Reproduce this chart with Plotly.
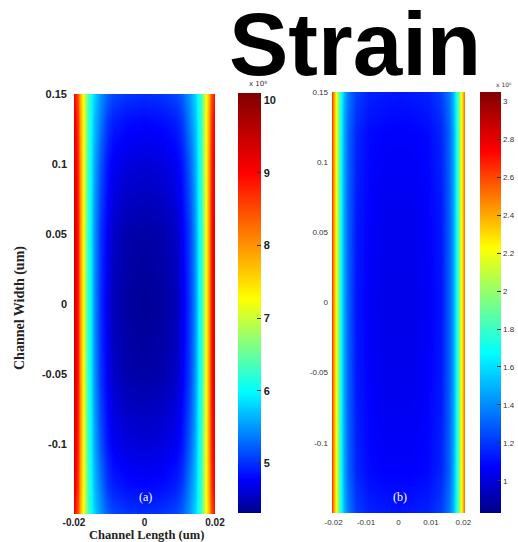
import plotly.graph_objects as go

# ---------------- data ----------------
# Panel (a): strain field, values in units of 1e8
xa = [-0.02, -0.0195, -0.019, -0.0183, -0.0175, -0.0167, -0.016, -0.0152, -0.0143, -0.0125, -0.0105, -0.009, -0.005, 0,
      0.005, 0.009, 0.0105, 0.0125, 0.0143, 0.0152, 0.016, 0.0167, 0.0175, 0.0183, 0.019, 0.0195, 0.02]
ya = [-0.15, -0.13, -0.1, -0.05, 0, 0.05, 0.1, 0.13, 0.15]
za = [
    [9.0, 8.7, 8.4, 7.8, 7.25, 6.7, 6.35, 6.05, 5.8, 5.5, 5.25, 5.12, 5.03, 5.0, 5.03, 5.12, 5.25, 5.5, 5.8, 6.05, 6.35, 6.7, 7.25, 7.8, 8.4, 8.7, 9.0],
    [9.2, 8.9, 8.6, 7.9, 7.3, 6.7, 6.3, 6.0, 5.7, 5.38, 5.05, 4.92, 4.83, 4.8, 4.83, 4.92, 5.05, 5.38, 5.7, 6.0, 6.3, 6.7, 7.3, 7.9, 8.6, 8.9, 9.2],
    [9.3, 9.0, 8.7, 8.0, 7.3, 6.65, 6.25, 5.95, 5.6, 5.2, 4.88, 4.74, 4.65, 4.62, 4.65, 4.74, 4.88, 5.2, 5.6, 5.95, 6.25, 6.65, 7.3, 8.0, 8.7, 9.0, 9.3],
    [9.4, 9.1, 8.8, 8.0, 7.3, 6.6, 6.2, 5.9, 5.5, 5.05, 4.75, 4.55, 4.45, 4.42, 4.45, 4.55, 4.75, 5.05, 5.5, 5.9, 6.2, 6.6, 7.3, 8.0, 8.8, 9.1, 9.4],
    [9.4, 9.1, 8.8, 8.0, 7.3, 6.6, 6.2, 5.9, 5.47, 5.02, 4.7, 4.5, 4.4, 4.36, 4.4, 4.5, 4.7, 5.02, 5.47, 5.9, 6.2, 6.6, 7.3, 8.0, 8.8, 9.1, 9.4],
    [9.4, 9.1, 8.8, 8.0, 7.3, 6.6, 6.2, 5.9, 5.5, 5.05, 4.75, 4.55, 4.45, 4.42, 4.45, 4.55, 4.75, 5.05, 5.5, 5.9, 6.2, 6.6, 7.3, 8.0, 8.8, 9.1, 9.4],
    [9.3, 9.0, 8.7, 8.0, 7.3, 6.65, 6.25, 5.95, 5.6, 5.2, 4.88, 4.74, 4.65, 4.62, 4.65, 4.74, 4.88, 5.2, 5.6, 5.95, 6.25, 6.65, 7.3, 8.0, 8.7, 9.0, 9.3],
    [9.2, 8.9, 8.6, 7.9, 7.3, 6.7, 6.3, 6.0, 5.7, 5.38, 5.05, 4.92, 4.83, 4.8, 4.83, 4.92, 5.05, 5.38, 5.7, 6.0, 6.3, 6.7, 7.3, 7.9, 8.6, 8.9, 9.2],
    [9.0, 8.7, 8.4, 7.8, 7.25, 6.7, 6.35, 6.05, 5.8, 5.5, 5.25, 5.12, 5.03, 5.0, 5.03, 5.12, 5.25, 5.5, 5.8, 6.05, 6.35, 6.7, 7.25, 7.8, 8.4, 8.7, 9.0],
]
za_range = [4.32, 10.1]
cbar_a_ticks = [5, 6, 7, 8, 9, 10]

# Panel (b): strain field, values in units of 1e6
xb = [-0.0205, -0.0201, -0.0196, -0.019, -0.0184, -0.0177, -0.0168, -0.0155, -0.013, -0.009, -0.004, 0,
      0.004, 0.009, 0.013, 0.0155, 0.0168, 0.0177, 0.0184, 0.019, 0.0196, 0.0201, 0.0205]
yb = [-0.15, -0.12, -0.06, 0, 0.06, 0.12, 0.15]
zb = [
    [2.6, 2.48, 2.3, 2.1, 1.87, 1.7, 1.5, 1.36, 1.22, 1.15, 1.13, 1.12, 1.13, 1.15, 1.22, 1.36, 1.5, 1.7, 1.87, 2.1, 2.3, 2.48, 2.6],
    [2.6, 2.48, 2.3, 2.1, 1.85, 1.67, 1.46, 1.31, 1.16, 1.09, 1.07, 1.07, 1.07, 1.09, 1.16, 1.31, 1.46, 1.67, 1.85, 2.1, 2.3, 2.48, 2.6],
    [2.6, 2.48, 2.3, 2.1, 1.85, 1.66, 1.45, 1.3, 1.13, 1.07, 1.04, 1.04, 1.04, 1.07, 1.13, 1.3, 1.45, 1.66, 1.85, 2.1, 2.3, 2.48, 2.6],
    [2.6, 2.48, 2.3, 2.1, 1.85, 1.66, 1.45, 1.3, 1.12, 1.06, 1.03, 1.03, 1.03, 1.06, 1.12, 1.3, 1.45, 1.66, 1.85, 2.1, 2.3, 2.48, 2.6],
    [2.6, 2.48, 2.3, 2.1, 1.85, 1.66, 1.45, 1.3, 1.13, 1.07, 1.04, 1.04, 1.04, 1.07, 1.13, 1.3, 1.45, 1.66, 1.85, 2.1, 2.3, 2.48, 2.6],
    [2.6, 2.48, 2.3, 2.1, 1.85, 1.67, 1.46, 1.31, 1.16, 1.09, 1.07, 1.07, 1.07, 1.09, 1.16, 1.31, 1.46, 1.67, 1.85, 2.1, 2.3, 2.48, 2.6],
    [2.6, 2.48, 2.3, 2.1, 1.87, 1.7, 1.5, 1.36, 1.22, 1.15, 1.13, 1.12, 1.13, 1.15, 1.22, 1.36, 1.5, 1.7, 1.87, 2.1, 2.3, 2.48, 2.6],
]
zb_range = [0.83, 3.05]
cbar_b_ticks = [1, 1.2, 1.4, 1.6, 1.8, 2, 2.2, 2.4, 2.6, 2.8, 3]

y_ticks = [-0.1, -0.05, 0, 0.05, 0.1, 0.15]
y_ticktext = ['-0.1', '-0.05', '0', '0.05', '0.1', '0.15']
xa_ticks = [-0.02, 0, 0.02]
xa_ticktext = ['-0.02', '0', '0.02']
xb_ticks = [-0.02, -0.01, 0, 0.01, 0.02]
xb_ticktext = ['-0.02', '-0.01', '0', '0.01', '0.02']

# ---------------- styling ----------------
W, H = 518, 542
def fx(p): return p / W
def fy(p): return 1 - p / H

jet_a = [[0, 'rgb(0,0,140)'], [0.08, 'rgb(0,0,255)'], [0.29, 'rgb(0,255,255)'],
         [0.40, 'rgb(130,255,130)'], [0.51, 'rgb(255,255,0)'], [0.81, 'rgb(255,0,0)'], [1, 'rgb(128,0,0)']]
jet_b = [[0, 'rgb(0,0,135)'], [0.11, 'rgb(0,0,255)'], [0.38, 'rgb(0,255,255)'],
         [0.63, 'rgb(255,255,0)'], [0.86, 'rgb(255,0,0)'], [1, 'rgb(128,0,0)']]

fig = go.Figure()
fig.add_trace(go.Heatmap(
    x=xa, y=ya, z=za, zmin=za_range[0], zmax=za_range[1], zsmooth='best',
    colorscale=jet_a, xaxis='x', yaxis='y',
    colorbar=dict(x=fx(238), xanchor='left', xpad=0, y=fy(93), yanchor='top', ypad=0,
                  len=(513 - 93) / H, lenmode='fraction', thickness=23, thicknessmode='pixels',
                  outlinewidth=0, tickvals=cbar_a_ticks, ticks='inside', ticklen=4, tickcolor='#333',
                  tickfont=dict(family='Liberation Sans', size=11, color='#222', weight='bold')),
))
fig.add_trace(go.Heatmap(
    x=xb, y=yb, z=zb, zmin=zb_range[0], zmax=zb_range[1], zsmooth='best',
    colorscale=jet_b, xaxis='x2', yaxis='y2',
    colorbar=dict(x=fx(480), xanchor='left', xpad=0, y=fy(92), yanchor='top', ypad=0,
                  len=(513 - 92) / H, lenmode='fraction', thickness=21, thicknessmode='pixels',
                  outlinewidth=0, tickvals=cbar_b_ticks, ticks='inside', ticklen=4, tickcolor='#333',
                  tickfont=dict(family='Liberation Sans', size=8, color='#333')),
))

fa = dict(family='Liberation Sans', size=11, color='#222', weight='bold')
fax = dict(family='Liberation Sans', size=10, color='#222', weight='bold')
fb = dict(family='Liberation Sans', size=8, color='#333')
common = dict(showgrid=False, zeroline=False, showline=False, ticks='', automargin=False)
fig.update_layout(
    width=W, height=H, margin=dict(l=0, r=0, t=0, b=0, autoexpand=False),
    paper_bgcolor='white', plot_bgcolor='white', showlegend=False,
    xaxis=dict(domain=[fx(74), fx(215)], range=[xa[0], xa[-1]], tickvals=xa_ticks,
               ticktext=xa_ticktext, tickfont=fax, ticklabelstandoff=1, anchor='y', **common),
    yaxis=dict(domain=[fy(514), fy(94)], range=[ya[0], ya[-1]], tickvals=y_ticks,
               ticktext=y_ticktext, tickfont=fa, ticklabelstandoff=6, anchor='x', **common),
    xaxis2=dict(domain=[fx(332), fx(465)], range=[xb[0], xb[-1]], tickvals=xb_ticks,
                ticktext=xb_ticktext, tickfont=fb, ticklabelstandoff=3, anchor='y2', **common),
    yaxis2=dict(domain=[fy(513), fy(92)], range=[yb[0], yb[-1]], tickvals=y_ticks,
                ticktext=y_ticktext, tickfont=fb, ticklabelstandoff=3, anchor='x2', **common),
)

serif = 'Liberation Serif'
ann = [
    dict(text='Strain', x=fx(355), y=fy(44), font=dict(family='Liberation Sans', size=89, color='black', weight='bold')),
    dict(text='Channel Length (um)', x=fx(146), y=fy(535), font=dict(family=serif, size=12.5, color='#222', weight='bold')),
    dict(text='Channel Width (um)', x=fx(20), y=fy(308), textangle=-90, font=dict(family=serif, size=14, color='#222', weight='bold')),
    dict(text='(a)', x=fx(145), y=fy(497), font=dict(family=serif, size=12, color='white')),
    dict(text='(b)', x=fx(400), y=fy(497), font=dict(family=serif, size=12, color='white')),
    dict(text='x 10⁸', x=fx(258), y=fy(84), font=dict(family='DejaVu Sans', size=7, color='#333')),
    dict(text='x 10⁶', x=fx(494), xanchor='left', y=fy(84), font=dict(family='DejaVu Sans', size=6, color='#333')),
]
for a in ann:
    a.setdefault('xanchor', 'center')
    fig.add_annotation(xref='paper', yref='paper', showarrow=False, yanchor='middle', **a)

fig.write_html('out.html')
